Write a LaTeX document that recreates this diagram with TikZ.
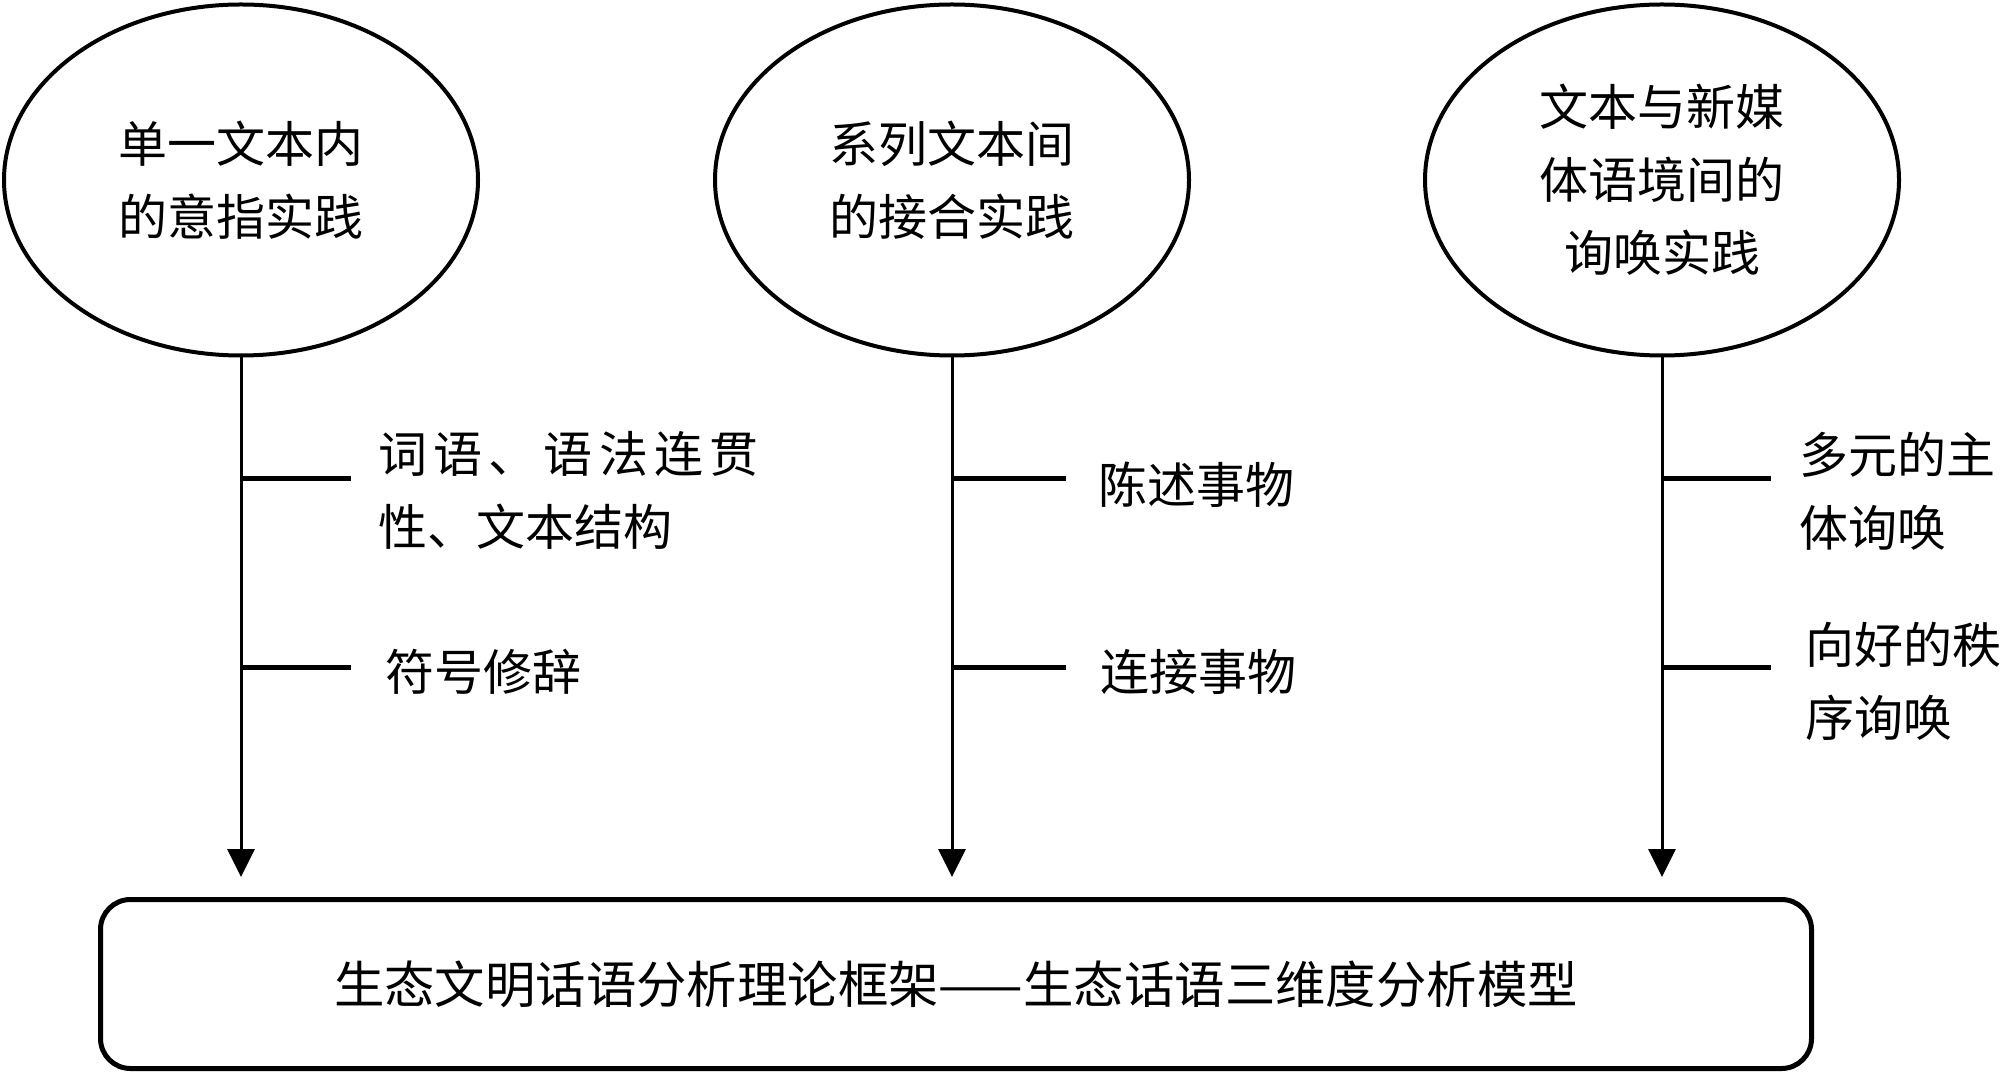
\documentclass[tikz,border=0pt]{standalone}
\usepackage{fontspec}
\setmainfont{Noto Sans CJK SC}
\usetikzlibrary{shapes.geometric,arrows.meta}
\begin{document}
\begin{tikzpicture}[x=0.5pt,y=-0.5pt,
  every node/.style={font=\fontsize{24.5pt}{36.5pt}\selectfont, inner sep=0pt},
  oval/.style={draw, ellipse, line width=2pt, minimum width=237pt, minimum height=175.5pt, align=center},
  mainbox/.style={draw, rounded corners=15pt, line width=2.5pt, minimum width=855.5pt, minimum height=84.5pt, font=\fontsize{25.2pt}{30pt}\selectfont},
  flow/.style={line width=1.5pt, -{Triangle[width=13.5pt,length=14pt]}, shorten >=10pt},
  tick/.style={line width=2.5pt},
  lbl/.style={anchor=west, align=left}]
\useasboundingbox (0,0) rectangle (2000,1074);

\node[oval] (e1) at (241,180) {单一文本内\\的意指实践};
\node[oval] (e2) at (952,180) {系列文本间\\的接合实践};
\node[oval] (e3) at (1662,180) {文本与新媒\\体语境间的\\询唤实践};

\node[mainbox] (box) at (956,984) {生态文明话语分析理论框架——生态话语三维度分析模型};

\draw[flow] (e1.south) -- (e1.south |- box.north);
\draw[flow] (e2.south) -- (e2.south |- box.north);
\draw[flow] (e3.south) -- (e3.south |- box.north);

% ticks
\coordinate (a1) at (351,478);
\coordinate (a2) at (351,667);
\coordinate (b1) at (1066,478);
\coordinate (b2) at (1066,667);
\coordinate (c1) at (1771,478);
\coordinate (c2) at (1771,667);
\draw[tick] (e1.south |- a1) -- (a1);
\draw[tick] (e1.south |- a2) -- (a2);
\draw[tick] (e2.south |- b1) -- (b1);
\draw[tick] (e2.south |- b2) -- (b2);
\draw[tick] (e3.south |- c1) -- (c1);
\draw[tick] (e3.south |- c2) -- (c2);

\node[lbl] (la1) at (378,490) {\makebox[190pt][s]{词\hfill 语\hfill 、\hfill 语\hfill 法\hfill 连\hfill 贯}\\性、文本结构};
\node[lbl] (la2) at (385,672) {符号修辞};
\node[lbl] (lb1) at (1098,485) {陈述事物};
\node[lbl] (lb2) at (1100,672) {连接事物};
\node[lbl] (lc1) at (1799,491) {多元的主\\体询唤};
\node[lbl] (lc2) at (1805,681) {向好的秩\\序询唤};
\end{tikzpicture}
\end{document}
